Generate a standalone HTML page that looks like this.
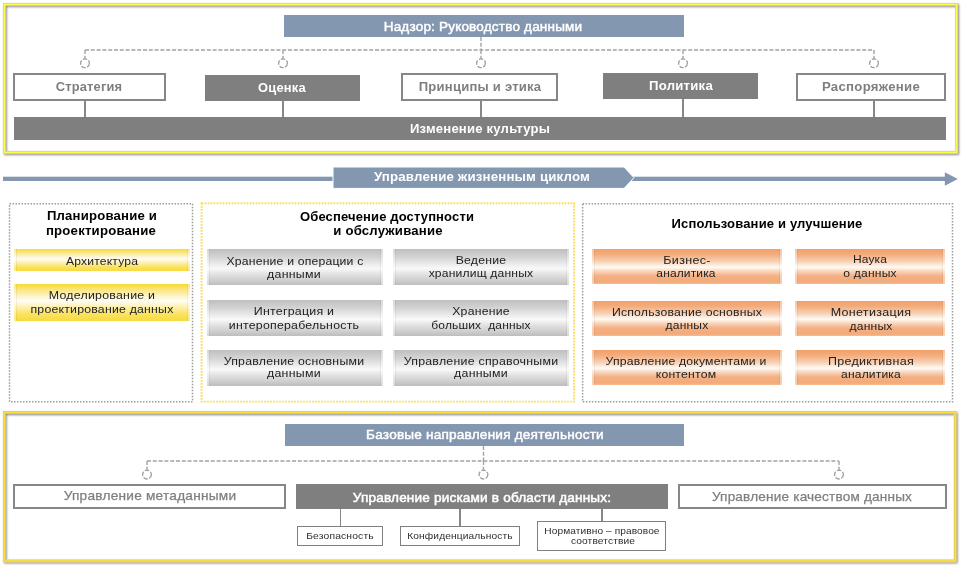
<!DOCTYPE html>
<html><head><meta charset="utf-8">
<style>
*{margin:0;padding:0;box-sizing:border-box}
html,body{width:971px;height:566px;overflow:hidden;background:#fff}
body{position:relative;font-family:"Liberation Sans",sans-serif}
.a{position:absolute}
.t{position:absolute;width:600px;text-align:center;white-space:pre;line-height:20px;height:20px;will-change:transform}
.hdr{position:absolute;background:#8497b0}
.wb{position:absolute;background:#fff;border:2px solid #878787}
.gb{position:absolute;background:#7f7f7f}
.vl{position:absolute;background:#878787;width:2px}
.yl{position:absolute;background:linear-gradient(90deg,rgba(255,255,255,.4) 0,rgba(255,255,255,.4) 1.5px,rgba(0,0,0,.05) 2.5px,rgba(0,0,0,0) 3.5px,rgba(0,0,0,0) calc(100% - 3.5px),rgba(0,0,0,.05) calc(100% - 2.5px),rgba(255,255,255,.4) calc(100% - 1.5px)),linear-gradient(#f8da34 0%,#fbe88a 18%,#fef6d6 36%,#fffdf5 46%,#fdf0b0 62%,#fae25e 82%,#f8db3e 100%)}
.gr{position:absolute;background:linear-gradient(90deg,rgba(255,255,255,.4) 0,rgba(255,255,255,.4) 1.5px,rgba(0,0,0,.05) 2.5px,rgba(0,0,0,0) 3.5px,rgba(0,0,0,0) calc(100% - 3.5px),rgba(0,0,0,.05) calc(100% - 2.5px),rgba(255,255,255,.4) calc(100% - 1.5px)),linear-gradient(#bfbfbf 0%,#d3d3d3 22%,#ebebeb 42%,#f9f9f9 54%,#e2e2e2 70%,#cdcdcd 88%,#bdbdbd 100%)}
.or{position:absolute;background:linear-gradient(90deg,rgba(255,255,255,.4) 0,rgba(255,255,255,.4) 1.5px,rgba(0,0,0,.05) 2.5px,rgba(0,0,0,0) 3.5px,rgba(0,0,0,0) calc(100% - 3.5px),rgba(0,0,0,.05) calc(100% - 2.5px),rgba(255,255,255,.4) calc(100% - 1.5px)),linear-gradient(#f2a068 0%,#f3ac7c 15%,#f8d2b6 36%,#fffaf6 52%,#f9d4b8 64%,#f4b084 77%,#f3aa78 94%,#f6bd94 100%)}
.sb{position:absolute;background:#fff;border:1px solid #808080}
</style></head><body>

<!-- TOP FRAME -->
<svg class="a" style="left:0;top:0" width="971" height="566">
  <defs><filter id="sh" x="-5%" y="-5%" width="110%" height="110%"><feDropShadow dx="1" dy="1.1" stdDeviation="1.1" flood-color="#000" flood-opacity="0.5"/></filter></defs>
  <g filter="url(#sh)"><rect x="4.35" y="4.4" width="952.35" height="148" fill="none" stroke="#d9cb6a" stroke-width="2.6"/><rect x="4.35" y="4.4" width="952.35" height="148" fill="none" stroke="#fffb48" stroke-width="1.5"/></g>
  <g filter="url(#sh)"><rect x="4.25" y="412.5" width="950.95" height="148.4" fill="none" stroke="#d8c25a" stroke-width="2.6"/><rect x="4.25" y="412.5" width="950.95" height="148.4" fill="none" stroke="#f9de3e" stroke-width="1.6"/></g>
</svg>
<div class="hdr" style="left:284px;top:14.5px;width:399.5px;height:22.5px"></div>

<svg class="a" style="left:0;top:0" width="971" height="566">
  <g fill="none" stroke="#a3a3a3" stroke-width="1.4" stroke-dasharray="4 1.8">
    <path d="M481 37 V50 M85 50 H874 M85 50 V59 M283 50 V59 M481 50 V59 M683 50 V59 M874 50 V59"/>
    <path d="M147 461 H839 M483.5 446 V461 M147 461 V470.2 M483.5 461 V470.2 M839 461 V470.2"/>
  </g>
  <g fill="none" stroke="#9f9f9f" stroke-width="1.3" stroke-dasharray="4.5 1.5">
    <circle cx="85" cy="63.3" r="4.4"/><circle cx="283" cy="63.3" r="4.4"/><circle cx="481" cy="63.3" r="4.4"/><circle cx="683" cy="63.3" r="4.4"/><circle cx="874" cy="63.3" r="4.4"/>
    <circle cx="147" cy="474.6" r="4.4"/><circle cx="483.5" cy="474.6" r="4.4"/><circle cx="839" cy="474.6" r="4.4"/>
  </g>
  <!-- lifecycle arrow -->
  <rect x="3" y="176.7" width="943" height="4.3" fill="#8497b0"/>
  <polygon points="944.8,172.2 957.8,178.9 944.8,185.7" fill="#8497b0"/>
  <polygon points="333,167 624,167 634,177.7 624,188.4 333,188.4" fill="#8497b0" stroke="#fff" stroke-width="1"/>
  <!-- dotted middle boxes -->
  <rect x="9.5" y="203.8" width="183" height="198" fill="none" stroke="#9c9c9c" stroke-width="1.5" stroke-dasharray="1.5 1.5"/>
  <rect x="201.6" y="203.2" width="372.4" height="198.4" fill="none" stroke="#f8dc56" stroke-width="1.9" stroke-dasharray="1.7 1.3"/>
  <rect x="582.6" y="203.8" width="369.9" height="198" fill="none" stroke="#9c9c9c" stroke-width="1.5" stroke-dasharray="1.5 1.5"/>
</svg>

<div class="wb" style="left:13.3px;top:72.9px;width:152.9px;height:27.8px"></div>
<div class="gb" style="left:204.8px;top:75px;width:155.1px;height:25.7px"></div>
<div class="wb" style="left:401.2px;top:73px;width:157.1px;height:27.7px"></div>
<div class="gb" style="left:603.1px;top:73px;width:154.8px;height:26px"></div>
<div class="wb" style="left:796.1px;top:73px;width:149.8px;height:27.6px"></div>
<div class="vl" style="left:84px;top:100px;height:17px"></div>
<div class="vl" style="left:282px;top:100px;height:17px"></div>
<div class="vl" style="left:480px;top:100px;height:17px"></div>
<div class="vl" style="left:682px;top:99px;height:18px"></div>
<div class="vl" style="left:873px;top:100px;height:17px"></div>
<div class="gb" style="left:14px;top:117px;width:932px;height:23.3px"></div>

<!-- MIDDLE -->
<div class="yl" style="left:14px;top:249px;width:176px;height:22.3px"></div>
<div class="yl" style="left:14px;top:284px;width:176px;height:36.5px"></div>
<div class="gr" style="left:207px;top:249px;width:175.5px;height:35.5px"></div>
<div class="gr" style="left:393px;top:249px;width:175.5px;height:35.5px"></div>
<div class="gr" style="left:207px;top:300px;width:175.5px;height:35.5px"></div>
<div class="gr" style="left:393px;top:300px;width:175.5px;height:35.5px"></div>
<div class="gr" style="left:207px;top:350px;width:175.5px;height:35.5px"></div>
<div class="gr" style="left:393px;top:350px;width:175.5px;height:35.5px"></div>
<div class="or" style="left:591.8px;top:249px;width:190px;height:35px"></div>
<div class="or" style="left:795.4px;top:249px;width:150px;height:35px"></div>
<div class="or" style="left:591.8px;top:300.5px;width:190px;height:35px"></div>
<div class="or" style="left:795.4px;top:300.5px;width:150px;height:35px"></div>
<div class="or" style="left:591.8px;top:350px;width:190px;height:35px"></div>
<div class="or" style="left:795.4px;top:350px;width:150px;height:35px"></div>

<!-- BOTTOM FRAME -->
<div class="hdr" style="left:285px;top:424px;width:399px;height:21.5px"></div>
<div class="wb" style="left:13px;top:484px;width:273.3px;height:24.5px"></div>
<div class="gb" style="left:296.2px;top:484.3px;width:371.5px;height:24.9px"></div>
<div class="wb" style="left:677.5px;top:484px;width:269px;height:24.5px"></div>
<div class="vl" style="left:339.5px;top:509px;height:17px;width:1.4px"></div>
<div class="vl" style="left:459.4px;top:509px;height:17px;width:1.4px"></div>
<div class="vl" style="left:601.2px;top:509px;height:12px;width:1.4px"></div>
<div class="sb" style="left:296.6px;top:526px;width:86.8px;height:20px"></div>
<div class="sb" style="left:400.4px;top:526px;width:119.2px;height:20px"></div>
<div class="sb" style="left:537.2px;top:521px;width:129.2px;height:30.2px"></div>

<div class="t" style="left:183.44px;top:16.56px;font-size:12.8px;font-weight:normal;color:#fff;letter-spacing:0.177px;transform:scaleX(1.0574);-webkit-text-stroke:0.45px #fff;">Надзор: Руководство данными</div>
<div class="t" style="left:-210.52px;top:76.54px;font-size:12.3px;font-weight:bold;color:#7f7f7f;letter-spacing:0.159px;transform:scaleX(1.0478);">Стратегия</div>
<div class="t" style="left:-17.70px;top:78.14px;font-size:12.3px;font-weight:bold;color:#fff;letter-spacing:0.192px;transform:scaleX(1.0487);">Оценка</div>
<div class="t" style="left:179.75px;top:77.04px;font-size:12.3px;font-weight:bold;color:#7f7f7f;letter-spacing:0.206px;transform:scaleX(1.0632);">Принципы и этика</div>
<div class="t" style="left:380.92px;top:76.44px;font-size:12.3px;font-weight:bold;color:#fff;letter-spacing:0.240px;transform:scaleX(1.0668);">Политика</div>
<div class="t" style="left:570.98px;top:76.94px;font-size:12.3px;font-weight:bold;color:#7f7f7f;letter-spacing:0.254px;transform:scaleX(1.0725);">Распоряжение</div>
<div class="t" style="left:180.14px;top:118.80px;font-size:12.4px;font-weight:bold;color:#fff;letter-spacing:0.189px;transform:scaleX(1.0571);">Изменение культуры</div>
<div class="t" style="left:181.68px;top:167.40px;font-size:12.7px;font-weight:bold;color:#fff;letter-spacing:0.157px;transform:scaleX(1.0462);">Управление жизненным циклом</div>
<div class="t" style="left:-198.41px;top:206.37px;font-size:12.5px;font-weight:bold;color:#000;letter-spacing:0.178px;transform:scaleX(1.0522);">Планирование и</div>
<div class="t" style="left:-198.71px;top:221.27px;font-size:12.5px;font-weight:bold;color:#000;letter-spacing:0.185px;transform:scaleX(1.0547);">проектирование</div>
<div class="t" style="left:87.17px;top:206.67px;font-size:12.5px;font-weight:bold;color:#000;letter-spacing:0.131px;transform:scaleX(1.0403);">Обеспечение доступности</div>
<div class="t" style="left:87.59px;top:221.17px;font-size:12.5px;font-weight:bold;color:#000;letter-spacing:0.178px;transform:scaleX(1.0527);">и обслуживание</div>
<div class="t" style="left:467.07px;top:214.27px;font-size:12.5px;font-weight:bold;color:#000;letter-spacing:0.139px;transform:scaleX(1.0429);">Использование и улучшение</div>
<div class="t" style="left:-198.12px;top:251.02px;font-size:11.5px;font-weight:normal;color:#222222;letter-spacing:0.162px;transform:scaleX(1.0551);">Архитектура</div>
<div class="t" style="left:-198.14px;top:285.22px;font-size:11.5px;font-weight:normal;color:#222222;letter-spacing:0.225px;transform:scaleX(1.0757);">Моделирование и</div>
<div class="t" style="left:-197.55px;top:298.62px;font-size:11.5px;font-weight:normal;color:#222222;letter-spacing:0.196px;transform:scaleX(1.0695);">проектирование данных</div>
<div class="t" style="left:-5.41px;top:250.62px;font-size:11.5px;font-weight:normal;color:#222222;letter-spacing:0.171px;transform:scaleX(1.0621);">Хранение и операции с</div>
<div class="t" style="left:-5.72px;top:263.82px;font-size:11.5px;font-weight:normal;color:#222222;letter-spacing:0.265px;transform:scaleX(1.0748);">данными</div>
<div class="t" style="left:181.06px;top:250.02px;font-size:11.5px;font-weight:normal;color:#222222;letter-spacing:0.215px;transform:scaleX(1.0650);">Ведение</div>
<div class="t" style="left:181.08px;top:263.42px;font-size:11.5px;font-weight:normal;color:#222222;letter-spacing:0.163px;transform:scaleX(1.0536);">хранилищ данных</div>
<div class="t" style="left:-5.94px;top:301.02px;font-size:11.5px;font-weight:normal;color:#222222;letter-spacing:0.221px;transform:scaleX(1.0783);">Интеграция и</div>
<div class="t" style="left:-5.79px;top:314.92px;font-size:11.5px;font-weight:normal;color:#222222;letter-spacing:0.210px;transform:scaleX(1.0736);">интероперабельность</div>
<div class="t" style="left:181.11px;top:301.02px;font-size:11.5px;font-weight:normal;color:#222222;letter-spacing:0.214px;transform:scaleX(1.0654);">Хранение</div>
<div class="t" style="left:181.12px;top:315.02px;font-size:11.5px;font-weight:normal;color:#222222;letter-spacing:0.131px;transform:scaleX(1.0450);">больших  данных</div>
<div class="t" style="left:-6.30px;top:350.62px;font-size:11.5px;font-weight:normal;color:#222222;letter-spacing:0.208px;transform:scaleX(1.0706);">Управление основными</div>
<div class="t" style="left:-6.26px;top:363.42px;font-size:11.5px;font-weight:normal;color:#222222;letter-spacing:0.270px;transform:scaleX(1.0762);">данными</div>
<div class="t" style="left:180.71px;top:350.62px;font-size:11.5px;font-weight:normal;color:#222222;letter-spacing:0.220px;transform:scaleX(1.0756);">Управление справочными</div>
<div class="t" style="left:180.98px;top:363.42px;font-size:11.5px;font-weight:normal;color:#222222;letter-spacing:0.265px;transform:scaleX(1.0748);">данными</div>
<div class="t" style="left:386.98px;top:250.22px;font-size:11.5px;font-weight:normal;color:#222222;letter-spacing:0.265px;transform:scaleX(1.0892);">Бизнес-</div>
<div class="t" style="left:386.32px;top:263.32px;font-size:11.5px;font-weight:normal;color:#222222;letter-spacing:0.131px;transform:scaleX(1.0429);">аналитика</div>
<div class="t" style="left:570.42px;top:249.42px;font-size:11.5px;font-weight:normal;color:#222222;letter-spacing:0.142px;transform:scaleX(1.0421);">Наука</div>
<div class="t" style="left:570.43px;top:263.02px;font-size:11.5px;font-weight:normal;color:#222222;letter-spacing:0.167px;transform:scaleX(1.0544);">о данных</div>
<div class="t" style="left:386.89px;top:301.62px;font-size:11.5px;font-weight:normal;color:#222222;letter-spacing:0.189px;transform:scaleX(1.0660);">Использование основных</div>
<div class="t" style="left:386.68px;top:315.02px;font-size:11.5px;font-weight:normal;color:#222222;letter-spacing:0.168px;transform:scaleX(1.0480);">данных</div>
<div class="t" style="left:570.69px;top:302.02px;font-size:11.5px;font-weight:normal;color:#222222;letter-spacing:0.273px;transform:scaleX(1.0888);">Монетизация</div>
<div class="t" style="left:570.59px;top:315.72px;font-size:11.5px;font-weight:normal;color:#222222;letter-spacing:0.180px;transform:scaleX(1.0513);">данных</div>
<div class="t" style="left:386.34px;top:350.62px;font-size:11.5px;font-weight:normal;color:#222222;letter-spacing:0.176px;transform:scaleX(1.0626);">Управление документами и</div>
<div class="t" style="left:386.05px;top:363.82px;font-size:11.5px;font-weight:normal;color:#222222;letter-spacing:0.191px;transform:scaleX(1.0632);">контентом</div>
<div class="t" style="left:570.83px;top:351.02px;font-size:11.5px;font-weight:normal;color:#222222;letter-spacing:0.262px;transform:scaleX(1.0874);">Предиктивная</div>
<div class="t" style="left:571.23px;top:364.22px;font-size:11.5px;font-weight:normal;color:#222222;letter-spacing:0.154px;transform:scaleX(1.0501);">аналитика</div>
<div class="t" style="left:184.70px;top:425.06px;font-size:12.8px;font-weight:normal;color:#fff;letter-spacing:0.192px;transform:scaleX(1.0624);-webkit-text-stroke:0.45px #fff;">Базовые направления деятельности</div>
<div class="t" style="left:-150.19px;top:486.16px;font-size:12.8px;font-weight:normal;color:#7f7f7f;letter-spacing:0.220px;transform:scaleX(1.0671);-webkit-text-stroke:0.25px #7f7f7f;">Управление метаданными</div>
<div class="t" style="left:182.08px;top:487.73px;font-size:12.9px;font-weight:normal;color:#fff;letter-spacing:0.163px;transform:scaleX(1.0544);-webkit-text-stroke:0.5px #fff;">Управление рисками в области данных:</div>
<div class="t" style="left:512.04px;top:486.66px;font-size:12.8px;font-weight:normal;color:#7f7f7f;letter-spacing:0.186px;transform:scaleX(1.0597);-webkit-text-stroke:0.25px #7f7f7f;">Управление качеством данных</div>
<div class="t" style="left:39.87px;top:526.20px;font-size:9.8px;font-weight:normal;color:#2e2e2e;letter-spacing:0.136px;transform:scaleX(1.0560);">Безопасность</div>
<div class="t" style="left:160.10px;top:526.20px;font-size:9.8px;font-weight:normal;color:#2e2e2e;letter-spacing:0.104px;transform:scaleX(1.0414);">Конфиденциальность</div>
<div class="t" style="left:301.79px;top:520.60px;font-size:9.8px;font-weight:normal;color:#2e2e2e;letter-spacing:0.082px;transform:scaleX(1.0351);">Нормативно – правовое</div>
<div class="t" style="left:302.80px;top:531.40px;font-size:9.8px;font-weight:normal;color:#2e2e2e;letter-spacing:0.101px;transform:scaleX(1.0424);">соответствие</div>

</body></html>
